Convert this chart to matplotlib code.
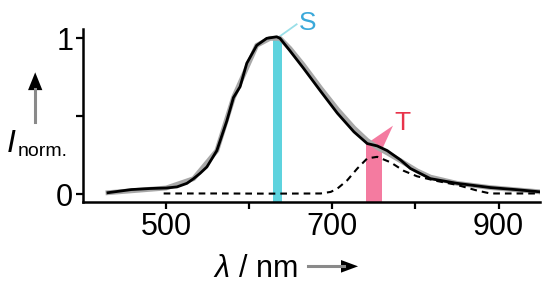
import matplotlib
matplotlib.use("Agg")
import matplotlib.pyplot as plt
from matplotlib.patches import Polygon
from matplotlib.lines import Line2D

plt.rcParams["font.family"] = ["Liberation Sans", "DejaVu Sans"]

# emission spectrum (solid)
wl_em = [430, 458, 481, 500, 513, 525, 533, 541, 549, 561, 573, 581, 589, 597, 609,
         621, 633, 637, 649, 665, 686, 706, 726, 742, 754, 766, 782, 794, 818, 850,
         890, 920, 951]
i_em = [0.01, 0.03, 0.037, 0.04, 0.047, 0.07, 0.10, 0.135, 0.175, 0.28, 0.47, 0.62, 0.69,
        0.84, 0.955, 1.0, 1.01, 1.0, 0.92, 0.81, 0.66, 0.52, 0.40, 0.325, 0.31, 0.28, 0.22,
        0.165, 0.10, 0.07, 0.043, 0.03, 0.015]
# fitted sum (grey), smooth and slightly higher on the red side
wl_fit = [430, 500, 533, 561, 581, 609, 625, 637, 649, 665, 686, 706, 726, 742, 754,
          766, 782, 802, 818, 850, 890, 951]
i_fit = [0.01, 0.04, 0.10, 0.28, 0.62, 0.955, 1.0, 1.0, 0.935, 0.83, 0.68, 0.545, 0.425,
         0.345, 0.30, 0.265, 0.215, 0.15, 0.11, 0.07, 0.043, 0.015]
# triplet component (dashed)
wl_t = [497, 560, 625, 686, 698, 706, 718, 730, 742, 754, 770, 786, 802, 826, 850,
        874, 890, 950]
i_t = [0.005, 0.005, 0.004, 0.005, 0.015, 0.036, 0.09, 0.165, 0.23, 0.24, 0.205, 0.15,
       0.115, 0.085, 0.06, 0.024, 0.005, 0.005]

s_pos, s_width, s_height = 634, 12, 1.0
t_pos, t_width, t_height = 750, 20, 0.32

fig = plt.figure(figsize=(5.5, 2.87), dpi=100)
ax = fig.add_axes([0.151, 0.296, 0.831, 0.603])

ax.bar([s_pos], [s_height + 0.05], bottom=-0.05, width=s_width, color="#5ED3DE", zorder=1)
ax.bar([t_pos], [t_height + 0.05], bottom=-0.05, width=t_width, color="#F47BA0", zorder=1)
ax.add_patch(Polygon([(t_pos - t_width / 2, t_height), (t_pos + t_width / 2, t_height - 0.03),
                      (773, 0.44)], closed=True, color="#F47BA0", lw=0, zorder=1))
ax.plot([s_pos + 2, 657], [s_height + 0.01, 1.09], color="#9ADFE8", lw=1.3, zorder=1,
        clip_on=False)
ax.text(670, 1.10, "S", color="#3BA9DA", fontsize=19, va="center", ha="center")
ax.text(784, 0.455, "T", color="#E8334A", fontsize=19, va="center", ha="center")

ax.plot(wl_fit, i_fit, color="#A8A8A8", lw=3.5, zorder=2, solid_joinstyle="round")
ax.plot(wl_t, i_t, color="black", lw=1.5, ls=(0, (3.2, 2.4)), zorder=3)
ax.plot(wl_em, i_em, color="black", lw=2.0, zorder=4, solid_joinstyle="round")

ax.set_xlim(400, 950)
ax.set_ylim(-0.05, 1.06)
ax.set_xticks([500, 600, 700, 800, 900])
ax.set_xticklabels(["500", "", "700", "", "900"])
ax.set_yticks([0, 0.5, 1])
ax.set_yticklabels(["0", "", "1"])
ax.tick_params(direction="out", length=5, width=1.6, labelsize=22, pad=2)
for s in ["top", "right"]:
    ax.spines[s].set_visible(False)
for s in ["left", "bottom"]:
    ax.spines[s].set_linewidth(1.8)

# axis labels with arrows (grey shaft, black head), in figure coordinates
fig.text(0.012, 0.47, "I", fontsize=23, style="italic", ha="left", va="baseline")
fig.text(0.032, 0.458, "norm.", fontsize=14, ha="left", va="baseline")
fig.add_artist(Line2D([0.064, 0.064], [0.575, 0.69], color="#8A8A8A", lw=2.2,
                      transform=fig.transFigure))
fig.add_artist(Polygon([(0.051, 0.686), (0.077, 0.686), (0.064, 0.748)], closed=True,
                       color="black", lw=0, transform=fig.transFigure))

fig.text(0.389, 0.035, "λ", fontsize=22, style="italic", ha="left", va="baseline")
fig.text(0.435, 0.035, "/ nm", fontsize=22, ha="left", va="baseline")
fig.add_artist(Line2D([0.56, 0.625], [0.072, 0.072], color="#8A8A8A", lw=2.2,
                      transform=fig.transFigure))
fig.add_artist(Polygon([(0.62, 0.05), (0.62, 0.094), (0.651, 0.072)], closed=True,
                       color="black", lw=0, transform=fig.transFigure))

fig.savefig("out.png", dpi=100)
